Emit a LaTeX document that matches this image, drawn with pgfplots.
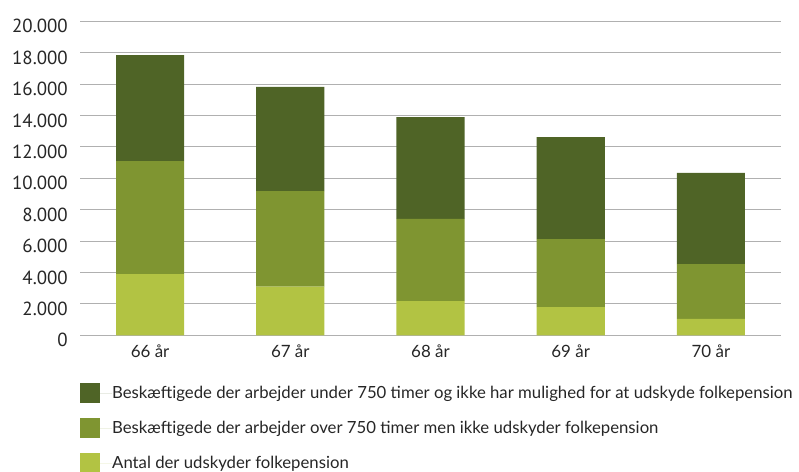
\documentclass[border=0pt]{standalone}
\usepackage{pgfplots}
\pgfplotsset{compat=1.18}
\usepackage{fontspec}
\setmainfont{Lato}
\newfontfamily\tickfont{PT Sans}
\definecolor{cdark}{HTML}{4F6426}
\definecolor{cmid}{HTML}{7F9531}
\definecolor{clight}{HTML}{B2C343}
\definecolor{cgrid}{HTML}{B0B0B0}
\definecolor{ctext}{HTML}{262626}
\begin{document}
\begin{tikzpicture}
\begin{axis}[
  name=ax,
  at={(0,0)}, anchor=south west,
  scale only axis, width=701bp, height=314bp,
  ybar stacked, bar width=0.486,
  xmin=-0.5, xmax=4.5, ymin=0, ymax=20000,
  scaled y ticks=false,
  xtick={0,1,2,3,4},
  xticklabels={66 år,67 år,68 år,69 år,70 år},
  ytick={0,2000,4000,6000,8000,10000,12000,14000,16000,18000,20000},
  yticklabels={0,2.000,4.000,6.000,8.000,10.000,12.000,14.000,16.000,18.000,20.000},
  axis line style={draw=none},
  major tick length=0pt,
  ymajorgrids, grid style={cgrid, line width=1bp},
  yticklabel style={font=\tickfont\fontsize{19}{19}\selectfont, text=ctext, inner sep=0pt, xshift=-12bp, yshift=-5bp},
  xticklabel style={font=\fontsize{17}{17}\selectfont, text=ctext, inner sep=0pt, yshift=-9bp},
  legend style={at={(axis description cs:0,-0.152)}, anchor=north west, draw=none, fill=none, inner sep=0pt,
    row sep=15bp, font=\fontsize{16.8}{16.8}\selectfont, text=ctext, nodes={inner sep=0pt}},
  legend cell align=left,
  reverse legend,
  legend image code/.code={\fill[#1,draw=none] (0bp,-10bp) rectangle (20bp,10bp); \path (0bp,0bp) -- (32bp,0bp);},
]
\addplot[fill=clight, draw=none] coordinates {(0,3900) (1,3100) (2,2180) (3,1800) (4,1040)};
\addplot[fill=cmid, draw=none] coordinates {(0,7200) (1,6090) (2,5230) (3,4330) (4,3500)};
\addplot[fill=cdark, draw=none] coordinates {(0,6750) (1,6630) (2,6490) (3,6500) (4,5800)};
\legend{Antal der udskyder folkepension,
  Beskæftigede der arbejder over 750 timer men ikke udskyder folkepension,
  Beskæftigede der arbejder under 750 timer og ikke har mulighed for at udskyde folkepension}
\end{axis}
\pgfresetboundingbox
\path ([shift={(-80bp,-136.7bp)}]ax.south west) rectangle ([shift={(18bp,21.3bp)}]ax.north east);
\end{tikzpicture}
\end{document}
